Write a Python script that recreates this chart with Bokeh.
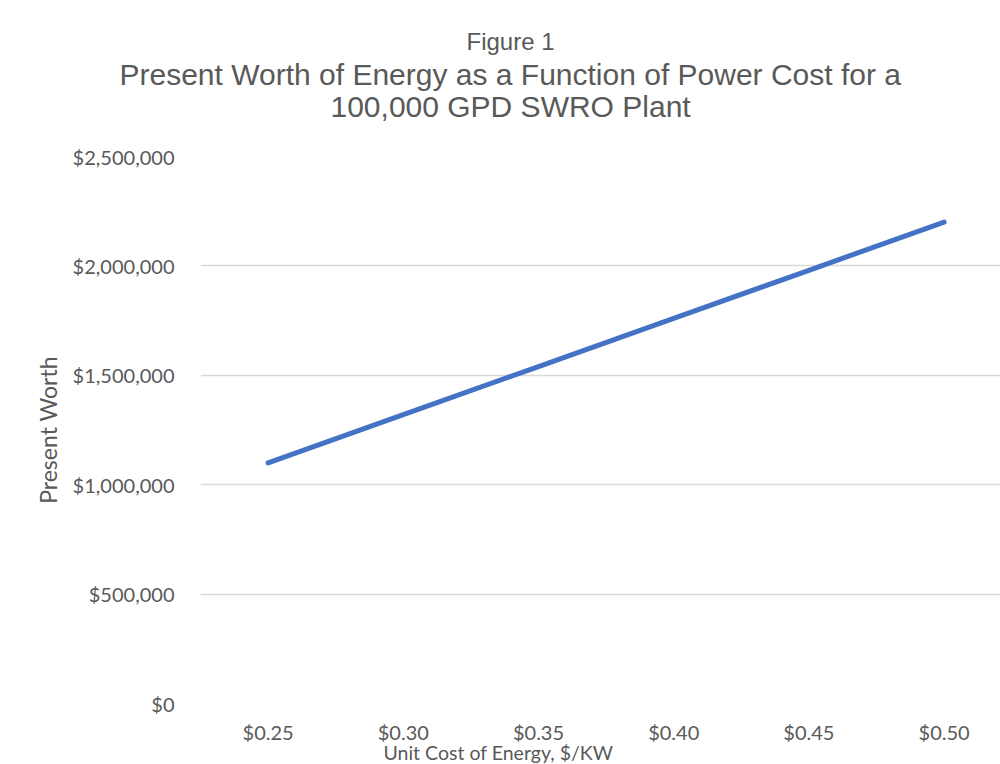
from bokeh.plotting import figure
from bokeh.models import Range1d, FixedTicker, NumeralTickFormatter, Title
from bokeh.embed import file_html
from bokeh.resources import INLINE

# ---- data ----
x_labels = ["$0.25", "$0.30", "$0.35", "$0.40", "$0.45", "$0.50"]
present_worth = [1100000, 1320000, 1540000, 1760000, 1980000, 2200000]
y_ticks = [0, 500000, 1000000, 1500000, 2000000, 2500000]
title_lines = ["Figure 1",
               "Present Worth of Energy as a Function of Power Cost for a",
               "100,000 GPD SWRO Plant"]
x_title = "Unit Cost of Energy, $/KW"
y_title = "Present Worth"

x_pos = list(range(len(x_labels)))

GRAY = "#595959"
GRID = "#d9d9d9"

p = figure(
    width=1000, height=764,
    output_backend="svg", toolbar_location=None,
    x_range=Range1d(-0.5, 5.417), y_range=Range1d(0, 2500000),
    min_border_left=200, min_border_right=0, min_border_top=156, min_border_bottom=61,
    background_fill_color="white", border_fill_color="white",
)
p.outline_line_color = None

# spacer between plot area and the title block
p.add_layout(Title(text=" ", align="left", standoff=0,
                   text_font="Liberation Sans", text_font_size="30px",
                   text_font_style="normal", text_color=GRAY), "above")

# title lines (added bottom-up), left aligned with offsets from the frame's left edge
for txt, size, off, so in reversed(list(zip(title_lines, ["24px", "30px", "30px"],
                                             [266, -81, 130], [5, -3, -3]))):
    p.add_layout(Title(text=txt, align="left", offset=off, standoff=so,
                       text_font="Liberation Sans", text_font_size=size,
                       text_font_style="normal", text_color=GRAY), "above")

p.line(x_pos, present_worth, line_width=5, line_color="#4472C4", line_cap="round", line_join="round")

# axes
p.xaxis.ticker = FixedTicker(ticks=x_pos)
p.xaxis.major_label_overrides = {i: lab for i, lab in zip(x_pos, x_labels)}
p.yaxis.ticker = FixedTicker(ticks=y_ticks)
p.yaxis.formatter = NumeralTickFormatter(format="$0,0")

for ax in (p.xaxis, p.yaxis):
    ax.axis_line_color = None
    ax.major_tick_line_color = None
    ax.minor_tick_line_color = None
    ax.major_tick_out = 0
    ax.major_tick_in = 0
    ax.minor_tick_out = 0
    ax.major_label_text_font = "Lato"
    ax.major_label_text_font_size = "20px"
    ax.major_label_text_color = GRAY
    ax.axis_label_text_font = "Lato"
    ax.axis_label_text_font_style = "normal"
    ax.axis_label_text_color = GRAY

# x-axis title as a bottom title so it can be offset like the original
p.add_layout(Title(text=x_title, align="left", offset=183, standoff=-16,
                   text_font="Lato", text_font_size="19.5px", text_font_style="normal",
                   text_color=GRAY), "below")

p.yaxis.axis_label = y_title
p.yaxis.axis_label_text_font_size = "23px"
p.xaxis.major_label_standoff = 16
p.yaxis.major_label_standoff = 26
p.yaxis.axis_label_standoff = 8

p.xgrid.grid_line_color = None
p.ygrid.grid_line_color = GRID
p.ygrid.grid_line_width = 1.5
p.ygrid.ticker = FixedTicker(ticks=y_ticks)

open("out.html", "w").write(file_html(p, INLINE))
